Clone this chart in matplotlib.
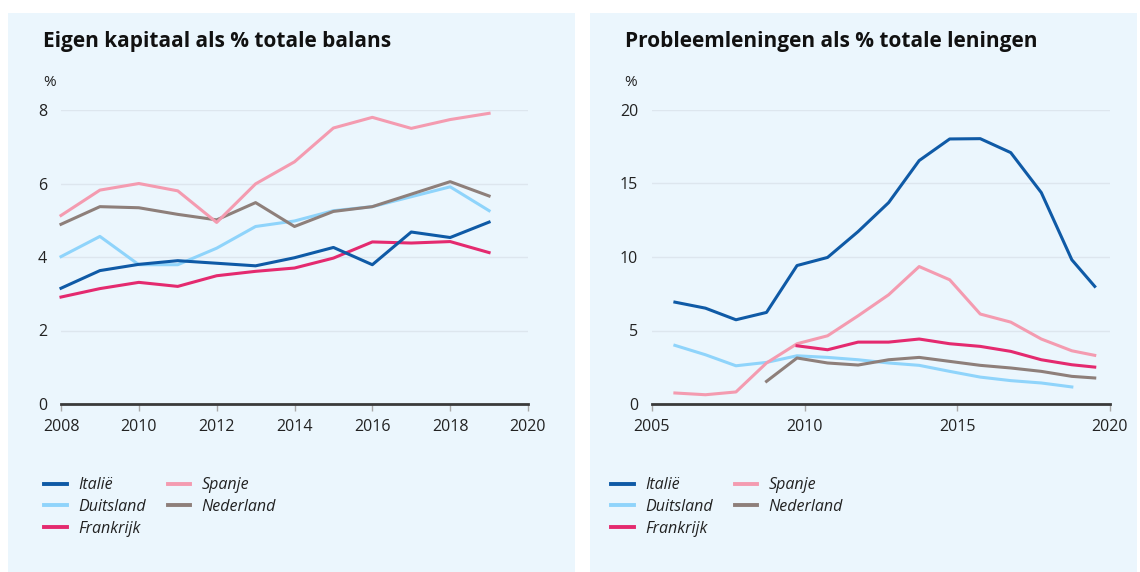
import numpy as np
import matplotlib.pyplot as plt
from matplotlib.patches import Rectangle
from matplotlib.lines import Line2D

plt.rcParams['font.family'] = ['Open Sans', 'DejaVu Sans']

# Eigen kapitaal als % totale balans (2008-2019)
years_left = list(range(2008, 2020))
eq_italie = [3.15, 3.63, 3.80, 3.90, 3.83, 3.76, 3.98, 4.26, 3.79, 4.68, 4.53, 4.95]
eq_duitsland = [4.01, 4.56, 3.79, 3.79, 4.24, 4.83, 4.98, 5.26, 5.37, 5.64, 5.91, 5.26]
eq_frankrijk = [2.91, 3.14, 3.31, 3.20, 3.49, 3.61, 3.70, 3.97, 4.41, 4.38, 4.42, 4.12]
eq_spanje = [5.13, 5.82, 6.00, 5.80, 4.94, 5.99, 6.59, 7.51, 7.80, 7.50, 7.74, 7.91]
eq_nederland = [4.89, 5.37, 5.34, 5.16, 5.01, 5.48, 4.83, 5.24, 5.37, 5.71, 6.05, 5.66]

# Probleemleningen als % totale leningen
years_right = [2005.75, 2006.75, 2007.75, 2008.75, 2009.75, 2010.75, 2011.75, 2012.75,
               2013.75, 2014.75, 2015.75, 2016.75, 2017.75, 2018.75, 2019.5]
npl_italie = [6.93, 6.52, 5.73, 6.23, 9.42, 9.97, 11.73, 13.70, 16.56, 18.03, 18.05, 17.10, 14.38, 9.81, 8.0]
npl_spanje = [0.75, 0.63, 0.82, 2.79, 4.10, 4.64, 6.00, 7.43, 9.35, 8.45, 6.12, 5.57, 4.42, 3.62, 3.31]
npl_duitsland = [3.99, 3.35, 2.60, 2.83, 3.28, 3.17, 3.01, 2.79, 2.63, 2.22, 1.83, 1.59, 1.43, 1.16, np.nan]
npl_frankrijk = [np.nan, np.nan, np.nan, np.nan, 3.96, 3.69, 4.21, 4.21, 4.42, 4.10, 3.92, 3.58, 3.01, 2.67, 2.51]
npl_nederland = [np.nan, np.nan, np.nan, 1.54, 3.13, 2.79, 2.65, 3.01, 3.17, 2.90, 2.63, 2.45, 2.22, 1.88, 1.77]

landen = ['Italië', 'Duitsland', 'Frankrijk', 'Spanje', 'Nederland']
kleuren = {'Italië': '#0f5aa6', 'Duitsland': '#8fd4fb', 'Frankrijk': '#e42a6f',
           'Spanje': '#f49bb0', 'Nederland': '#8e7f7a'}
bg = '#ebf6fd'

fig = plt.figure(figsize=(11.4, 5.72), dpi=100)
fig.patches.append(Rectangle((8 / 1140, 0), 567 / 1140, 1 - 13 / 572, transform=fig.transFigure,
                             facecolor=bg, edgecolor='none', zorder=-10))
fig.patches.append(Rectangle((590 / 1140, 0), 547 / 1140, 1 - 13 / 572, transform=fig.transFigure,
                             facecolor=bg, edgecolor='none', zorder=-10))

ax1 = fig.add_axes([61 / 1140, 1 - 404 / 572, 467 / 1140, 294 / 572])
ax2 = fig.add_axes([652 / 1140, 1 - 404 / 572, 458 / 1140, 294 / 572])


def style_axes(ax, xticks, yticks):
    ax.set_facecolor(bg)
    for s in ['top', 'right', 'left']:
        ax.spines[s].set_visible(False)
    ax.spines['bottom'].set_color('#3a3a3a')
    ax.spines['bottom'].set_linewidth(2)
    ax.set_xticks(xticks)
    ax.set_yticks(yticks)
    ax.set_xlim(xticks[0], xticks[-1])
    ax.set_ylim(yticks[0], yticks[-1])
    ax.tick_params(axis='y', length=0, pad=10, labelsize=11.5, labelcolor='#222222')
    ax.tick_params(axis='x', length=5, color='#aaaaaa', width=1, pad=6, labelsize=11.5,
                   labelcolor='#222222')
    ax.grid(axis='y', color='#dde6ee', linewidth=1)
    ax.set_axisbelow(True)


style_axes(ax1, [2008, 2010, 2012, 2014, 2016, 2018, 2020], [0, 2, 4, 6, 8])
style_axes(ax2, [2005, 2010, 2015, 2020], [0, 5, 10, 15, 20])

left = {'Italië': eq_italie, 'Duitsland': eq_duitsland, 'Frankrijk': eq_frankrijk,
        'Spanje': eq_spanje, 'Nederland': eq_nederland}
right = {'Italië': npl_italie, 'Duitsland': npl_duitsland, 'Frankrijk': npl_frankrijk,
         'Spanje': npl_spanje, 'Nederland': npl_nederland}

for naam in ['Duitsland', 'Nederland', 'Spanje', 'Frankrijk', 'Italië']:
    ax1.plot(years_left, left[naam], color=kleuren[naam], lw=2.2, clip_on=False)
    ax2.plot(years_right, right[naam], color=kleuren[naam], lw=2.2, clip_on=False)

fig.text(43 / 1140, 1 - 42 / 572, 'Eigen kapitaal als % totale balans', fontsize=15,
         fontweight='bold', va='center', color='#111111')
fig.text(625 / 1140, 1 - 42 / 572, 'Probleemleningen als % totale leningen', fontsize=15,
         fontweight='bold', va='center', color='#111111')
fig.text(43 / 1140, 1 - 83 / 572, '%', fontsize=11, va='center', color='#222222')
fig.text(624 / 1140, 1 - 83 / 572, '%', fontsize=11, va='center', color='#222222')

handles = [Line2D([], [], color=kleuren[n], lw=2.8) for n in landen]
for x0 in [30 / 1140, 597 / 1140]:
    fig.legend(handles, landen, ncol=2, loc='upper left', bbox_to_anchor=(x0, 1 - 463 / 572),
               frameon=False, prop={'style': 'italic', 'size': 11.5}, handlelength=1.4,
               handletextpad=0.7, columnspacing=1.4, labelspacing=0.35, labelcolor='#222222')

fig.savefig('out.png', dpi=100, facecolor='white')
